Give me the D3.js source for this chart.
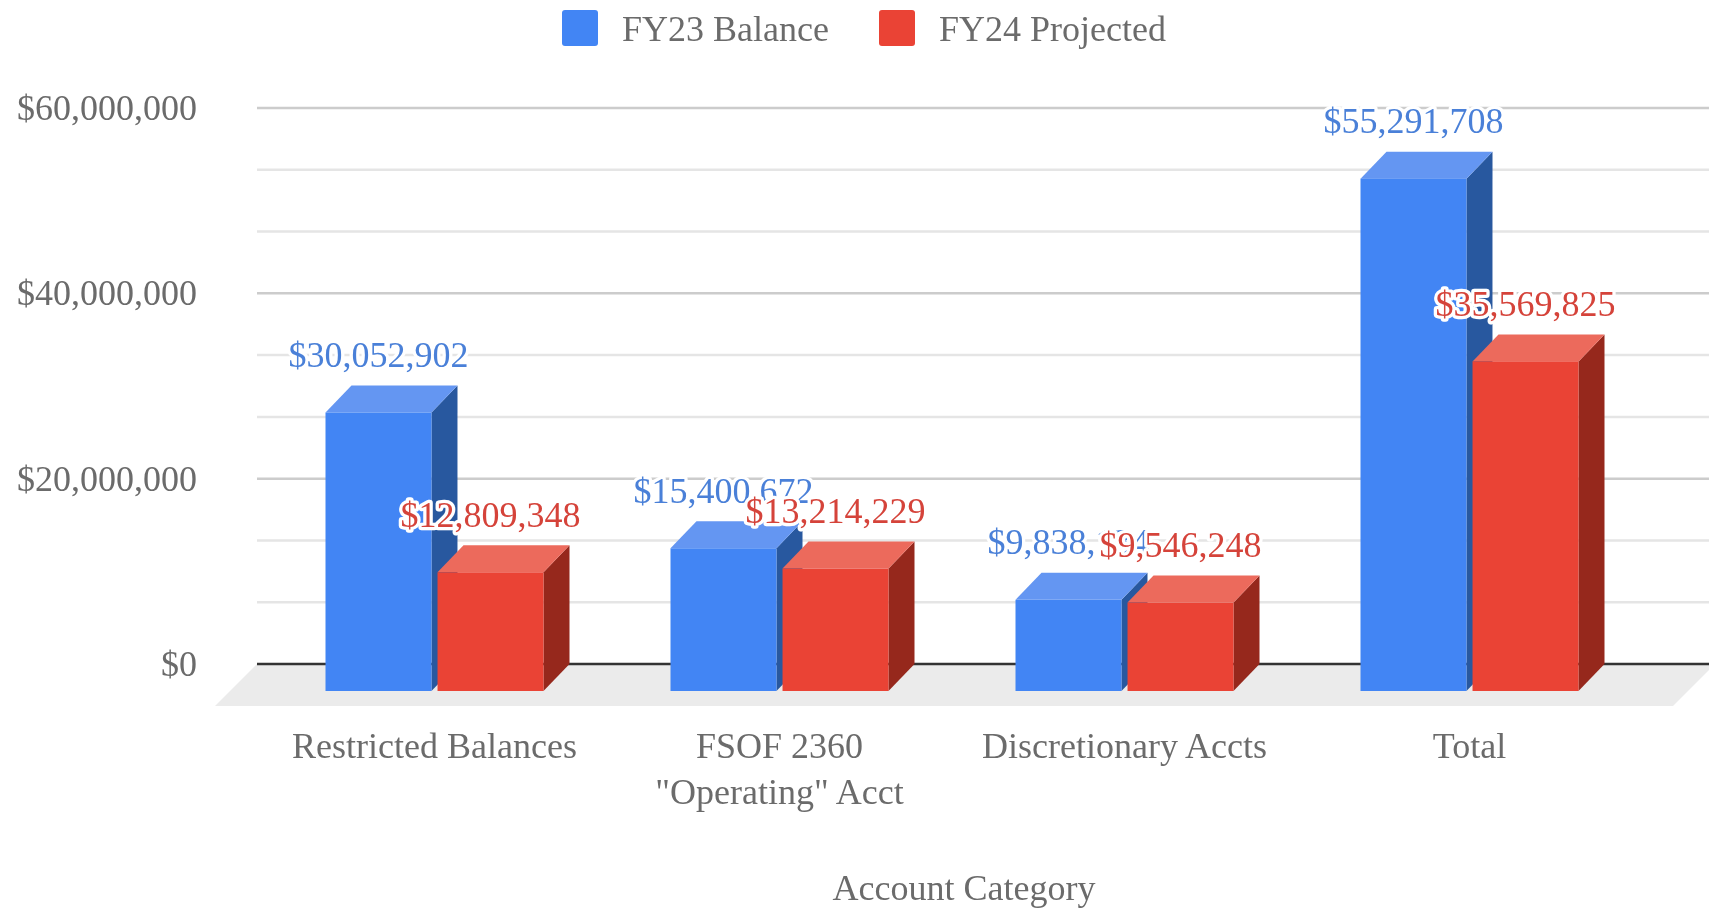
<!DOCTYPE html>
<html>
<head>
<meta charset="utf-8">
<script src="https://cdn.jsdelivr.net/npm/d3@7"></script>
<style>
html,body{margin:0;padding:0;background:#fff;overflow:hidden}
svg{display:block;filter:blur(0.45px)}
text{font-family:"Liberation Serif","Times New Roman",serif}
</style>
</head>
<body>
<svg id="c" width="1709" height="908"></svg>
<script>
const categories = ['Restricted Balances', 'FSOF 2360\n"Operating" Acct', 'Discretionary Accts', 'Total'];
const seriesNames = ['FY23 Balance', 'FY24 Projected'];
const fy23 = [30052902, 15400672, 9838134, 55291708];
const fy24 = [12809348, 13214229, 9546248, 35569825];
const majorTicks = [0, 20000000, 40000000, 60000000];
const axisTitle = 'Account Category';

const colors = {
  FY23: {front:'#4285f4', top:'#6496f2', side:'#28589f', text:'#4a80d8'},
  FY24: {front:'#ea4335', top:'#ec6a5c', side:'#96281c', text:'#d5433a'}
};
const textGray = '#6b6b6b', fontSize = 36;
const W = 1709, plotRight = 1715, depthX = 26, depthY = 27, floorDepth = 42;
const money = d => '$' + d3.format(',')(d);

const svg = d3.select('#c');
const y = d3.scaleLinear().domain([0, 60000000]).range([664, 108]);
const x0 = d3.scaleBand().domain(categories).range([262, 1642]);
const x1 = d3.scaleBand().domain(seriesNames).range([-109, 109]).paddingInner(0.054);
const plotLeft = 257;

// gridlines
const minorTicks = d3.range(0, 60000001, 20000000 / 3).map(Math.round)
  .filter(v => !majorTicks.some(m => Math.abs(m - v) < 10));
svg.append('g').selectAll('line').data(minorTicks).join('line')
  .attr('x1', plotLeft).attr('x2', W).attr('y1', d => y(d)).attr('y2', d => y(d))
  .attr('stroke', '#e5e5e5').attr('stroke-width', 2.5);
svg.append('g').selectAll('line').data(majorTicks.slice(1)).join('line')
  .attr('x1', plotLeft).attr('x2', W).attr('y1', d => y(d)).attr('y2', d => y(d))
  .attr('stroke', '#cccccc').attr('stroke-width', 2.5);

// floor
const y0 = y(0);
svg.append('polygon')
  .attr('points', [[plotLeft, y0], [plotRight, y0], [plotRight - floorDepth, y0 + floorDepth], [plotLeft - floorDepth, y0 + floorDepth]].join(' '))
  .attr('fill', '#ebebeb');
svg.append('line').attr('x1', plotLeft).attr('x2', W).attr('y1', y0).attr('y2', y0)
  .attr('stroke', '#333').attr('stroke-width', 2.5);

// y axis
const yAxis = d3.axisLeft(y).tickValues(majorTicks).tickSize(0).tickPadding(0).tickFormat(money);
const gy = svg.append('g').attr('transform', 'translate(197,0)').call(yAxis);
gy.select('.domain').remove();
gy.selectAll('text').attr('font-size', fontSize).attr('fill', textGray)
  .style('font-family', '"Liberation Serif",serif').attr('dy', '0.32em');

// x axis
const xAxis = d3.axisBottom(x0).tickSize(0).tickPadding(0).tickFormat('');
const gx = svg.append('g').attr('transform', 'translate(0,758)').call(xAxis);
gx.select('.domain').remove();
gx.selectAll('.tick text').each(function(d) {
  const t = d3.select(this).attr('y', 0).attr('dy', 0).attr('font-size', fontSize).attr('fill', textGray)
    .style('font-family', '"Liberation Serif",serif');
  d.split('\n').forEach((line, i) => {
    t.append('tspan').attr('x', 0).attr('y', i * 46).text(line);
  });
});
svg.append('text').attr('x', 964).attr('y', 900).attr('text-anchor', 'middle')
  .attr('font-size', fontSize).attr('fill', textGray).text(axisTitle);

// bars
const rows = categories.flatMap((c, i) => [
  {c, name: seriesNames[0], v: fy23[i], col: colors.FY23},
  {c, name: seriesNames[1], v: fy24[i], col: colors.FY24}
]);
const bx = d => x0(d.c) + x0.bandwidth() / 2 + x1(d.name);
const bw = x1.bandwidth();
const bars = svg.append('g').selectAll('g').data(rows).join('g');
bars.append('polygon').attr('fill', d => d.col.side).attr('points', d => {
  const r = bx(d) + bw, t = y(d.v) + depthY;
  return [[r, t], [r + depthX, t - depthY], [r + depthX, y0], [r, y0 + depthY]].join(' ');
});
bars.append('polygon').attr('fill', d => d.col.top).attr('points', d => {
  const l = bx(d), t = y(d.v) + depthY;
  return [[l, t], [l + depthX, t - depthY], [l + bw + depthX, t - depthY], [l + bw, t]].join(' ');
});
bars.append('rect').attr('fill', d => d.col.front)
  .attr('x', bx).attr('width', bw)
  .attr('y', d => y(d.v) + depthY).attr('height', d => y0 - y(d.v));

// value labels
svg.append('g').selectAll('text').data(rows).join('text')
  .attr('x', d => bx(d) + bw / 2)
  .attr('y', d => y(d.v) - 18.5)
  .attr('text-anchor', 'middle')
  .attr('font-size', fontSize)
  .attr('fill', d => d.col.text)
  .attr('stroke', '#fff').attr('stroke-width', 6.5).attr('stroke-linejoin', 'round')
  .attr('paint-order', 'stroke')
  .text(d => money(d.v));

// legend
const legend = svg.append('g').selectAll('g').data(seriesNames).join('g')
  .attr('transform', (d, i) => `translate(${[562, 879][i]},0)`);
legend.append('rect').attr('y', 10).attr('width', 36).attr('height', 36).attr('rx', 3)
  .attr('fill', (d, i) => i ? colors.FY24.front : colors.FY23.front);
legend.append('text').attr('x', 60).attr('y', 41).attr('font-size', fontSize).attr('fill', textGray).text(d => d);
</script>
</body>
</html>
